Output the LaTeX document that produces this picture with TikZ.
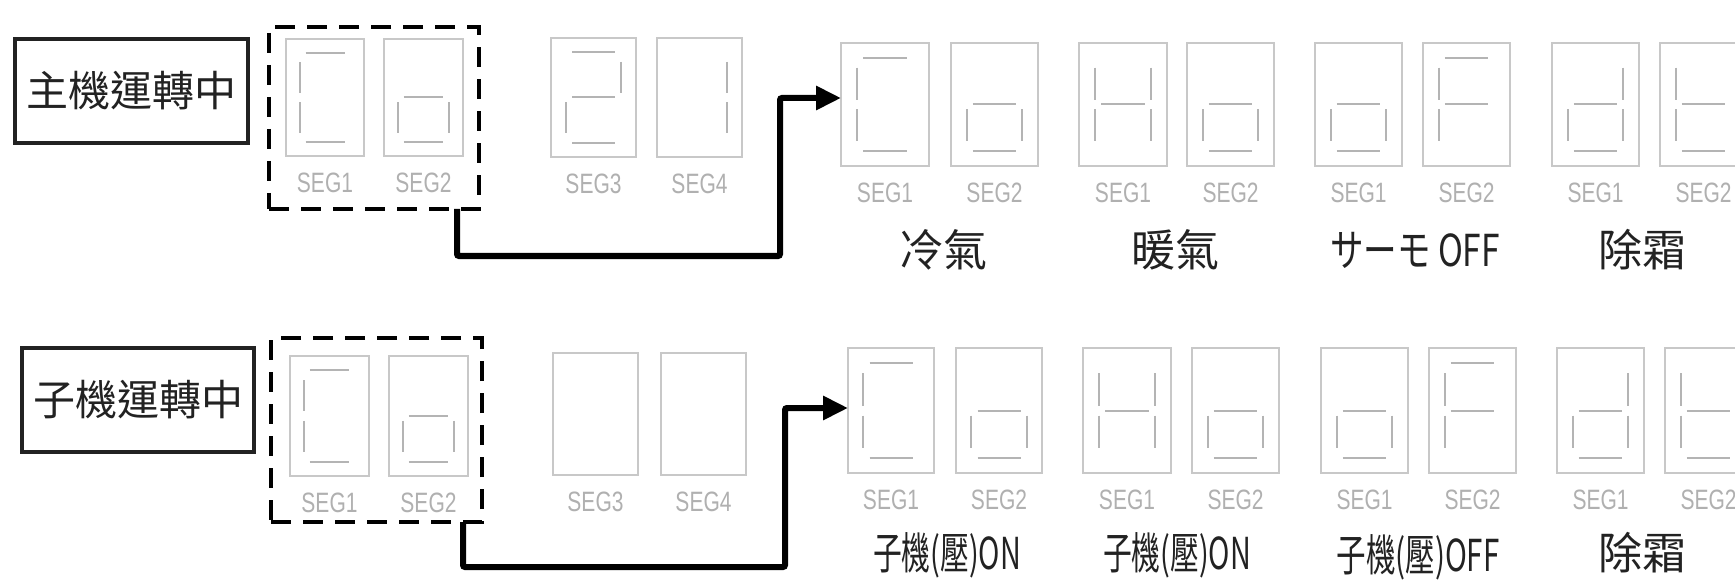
\documentclass[tikz,border=0pt]{standalone}
\usepackage{fontspec}
\usepackage{graphicx}
\usetikzlibrary{arrows.meta,calc}
\newfontfamily\cjk{Noto Sans CJK TC}
\newfontfamily\segf[FakeStretch=0.75]{Liberation Sans}
\definecolor{boxgray}{HTML}{C8C8C8}
\definecolor{seggray}{HTML}{B4B4B4}
\definecolor{txtgray}{HTML}{B0B0B0}
\definecolor{ink}{HTML}{222222}
% seven-segment glyphs (normalised coordinates inside a display)
\def\digC{0.25/0.12/0.75/0.12,0.18/0.2/0.18/0.46,0.18/0.54/0.18/0.8,0.25/0.88/0.75/0.88}
\def\digO{0.25/0.5/0.75/0.5,0.82/0.54/0.82/0.8,0.25/0.88/0.75/0.88,0.18/0.54/0.18/0.8}
\def\digTwo{0.25/0.12/0.75/0.12,0.82/0.2/0.82/0.46,0.25/0.5/0.75/0.5,0.18/0.54/0.18/0.8,0.25/0.88/0.75/0.88}
\def\digOne{0.82/0.2/0.82/0.46,0.82/0.54/0.82/0.8}
\def\digH{0.18/0.2/0.18/0.46,0.82/0.2/0.82/0.46,0.18/0.54/0.18/0.8,0.82/0.54/0.82/0.8,0.25/0.5/0.75/0.5}
\def\digF{0.25/0.12/0.75/0.12,0.18/0.2/0.18/0.46,0.25/0.5/0.75/0.5,0.18/0.54/0.18/0.8}
\def\digD{0.82/0.2/0.82/0.46,0.82/0.54/0.82/0.8,0.25/0.5/0.75/0.5,0.18/0.54/0.18/0.8,0.25/0.88/0.75/0.88}
\def\digT{0.18/0.2/0.18/0.46,0.18/0.54/0.18/0.8,0.25/0.5/0.75/0.5,0.25/0.88/0.75/0.88}
\tikzset{
  dispbox/.style={draw=boxgray,line width=2pt,inner sep=0pt,outer sep=0pt},
  segline/.style={draw=seggray,line width=2pt},
  seglbl/.style={inner sep=0pt,text=txtgray,font=\segf\fontsize{28}{28}\selectfont},
  lblbox/.style={draw=ink,line width=3.5pt,inner sep=0pt,outer sep=0pt,text=ink,font=\cjk\fontsize{42}{42}\selectfont},
  dashbox/.style={draw=black,line width=4.5pt,dash pattern=on 20pt off 12pt,inner sep=0pt,outer sep=0pt},
  modelbl/.style={inner sep=0pt,text=ink,font=\cjk\fontsize{44}{44}\selectfont},
  conn/.style={draw=black,line width=6pt,rounded corners=2pt},
  tip/.style={-{Triangle[length=25pt,width=23pt]}}
}
% display: name, x, y (top left), width, height, label
\newcommand\dspbox[6]{%
  \node[dispbox,minimum width=#4pt,minimum height=#5pt,anchor=north west] (#1) at (#2,#3) {};
  \node[seglbl] (#1-l) at ($(#1.south)+(0,26.5)$) {#6};
}
% display with glyph: name, x, y, width, height, label, glyph
\newcommand\dsp[7]{%
  \dspbox{#1}{#2}{#3}{#4}{#5}{#6}
  \begin{scope}[shift={(#1.north west)},x=#4pt,y=-#5pt]
    \foreach \xa/\ya/\xb/\yb in #7 {\draw[segline] (\xa,\ya) -- (\xb,\yb);}
  \end{scope}
}
\begin{document}
\begin{tikzpicture}[x=1pt,y=-1pt]
\clip (0,0) rectangle (1735,580);
\fill[white] (0,0) rectangle (1735,580);

% ---------- row 1 ----------
\node[lblbox,minimum width=233pt,minimum height=104pt] (L1) at (131.5,91) {\raisebox{4pt}{主機運轉中}};
\dsp{A1}{286}{39}{78}{117}{SEG1}{\digC}
\dsp{A2}{384}{39}{79}{117}{SEG2}{\digO}
\dsp{A3}{551}{38}{85}{119}{SEG3}{\digTwo}
\dsp{A4}{657}{38}{85}{119}{SEG4}{\digOne}
\node[dashbox,minimum width=210pt,minimum height=182pt] (B1) at (374,118) {};

\dsp{P1a}{841}{43}{88}{123}{SEG1}{\digC}
\dsp{P1b}{951}{43}{87}{123}{SEG2}{\digO}
\dsp{P2a}{1079}{43}{88}{123}{SEG1}{\digH}
\dsp{P2b}{1187}{43}{87}{123}{SEG2}{\digO}
\dsp{P3a}{1315}{43}{87}{123}{SEG1}{\digO}
\dsp{P3b}{1423}{43}{87}{123}{SEG2}{\digF}
\dsp{P4a}{1552}{43}{87}{123}{SEG1}{\digD}
\dsp{P4b}{1660}{43}{87}{123}{SEG2}{\digT}
\node[modelbl] (M1) at (943,250) {冷氣};
\node[modelbl] (M2) at (1175,250) {暖氣};
\node[modelbl] (M3) at (1415,250) {\resizebox{170pt}{\height}{サーモ OFF}};
\node[modelbl] (M4) at (1642,250) {除霜};

\coordinate (s1) at (457,209);
\coordinate (m1) at (780,256);
\draw[conn,tip] (s1) |- (m1) |- (P1a.west |- 0,98);

% ---------- row 2 ----------
\node[lblbox,minimum width=232pt,minimum height=104pt] (L2) at (138,400) {\raisebox{4pt}{子機運轉中}};
\dsp{C1}{290}{356}{79}{120}{SEG1}{\digC}
\dsp{C2}{389}{356}{79}{120}{SEG2}{\digO}
\dspbox{C3}{553}{353}{85}{122}{SEG3}
\dspbox{C4}{661}{353}{85}{122}{SEG4}
\node[dashbox,minimum width=211pt,minimum height=184pt] (B2) at (376.5,430) {};

\dsp{Q1a}{848}{348}{86}{125}{SEG1}{\digC}
\dsp{Q1b}{956}{348}{86}{125}{SEG2}{\digO}
\dsp{Q2a}{1083}{348}{88}{125}{SEG1}{\digH}
\dsp{Q2b}{1192}{348}{87}{125}{SEG2}{\digO}
\dsp{Q3a}{1321}{348}{87}{125}{SEG1}{\digO}
\dsp{Q3b}{1429}{348}{87}{125}{SEG2}{\digF}
\dsp{Q4a}{1557}{348}{87}{125}{SEG1}{\digD}
\dsp{Q4b}{1665}{348}{87}{125}{SEG2}{\digT}
\node[modelbl] (N1) at (947,555) {\resizebox{148pt}{\height}{子機(壓)ON}};
\node[modelbl] (N2) at (1177,555) {\resizebox{148pt}{\height}{子機(壓)ON}};
\node[modelbl] (N3) at (1418,557) {\resizebox{163pt}{\height}{子機(壓)OFF}};
\node[modelbl] (N4) at (1642,553) {除霜};

\coordinate (s2) at (463,522);
\coordinate (m2) at (785,567);
\draw[conn,tip] (s2) |- (m2) |- (Q1a.west |- 0,408);
\end{tikzpicture}
\end{document}
